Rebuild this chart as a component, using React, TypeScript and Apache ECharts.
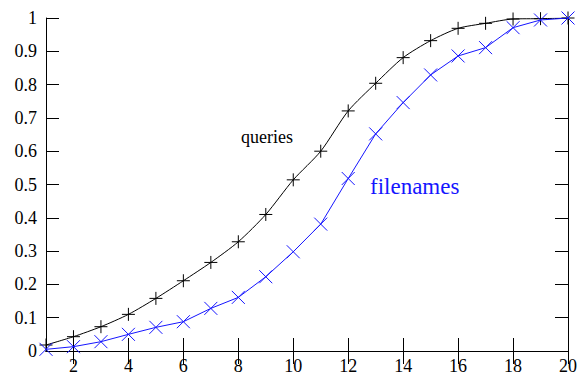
import React, { useEffect, useRef } from "react";
import * as echarts from "echarts";

const xValues = [1, 2, 3, 4, 5, 6, 7, 8, 9, 10, 11, 12, 13, 14, 15, 16, 17, 18, 19, 20];
const queries = [0.018, 0.043, 0.073, 0.11, 0.158, 0.211, 0.266, 0.328, 0.41, 0.514, 0.6, 0.721, 0.804, 0.881, 0.932, 0.969, 0.984, 0.997, 0.998, 1.0];
const filenames = [0.005, 0.013, 0.028, 0.05, 0.071, 0.088, 0.128, 0.161, 0.223, 0.298, 0.381, 0.518, 0.652, 0.746, 0.829, 0.886, 0.911, 0.971, 0.994, 1.0];
const xTickValues = [2, 4, 6, 8, 10, 12, 14, 16, 18, 20];
const seriesNames = ["queries", "filenames"];

const FONT = "Liberation Serif";
const BLUE = "#1515ff";

export default function App() {
  const ref = useRef<HTMLDivElement>(null);
  useEffect(() => {
    if (!ref.current) return;
    const chart = echarts.init(ref.current, undefined, { renderer: "svg" });
    const tickCommon = { inside: true, length: 13, lineStyle: { color: "#000", width: 1 } };
    const lineCommon = { show: true, lineStyle: { color: "#000", width: 1 } };
    const labelStyle = { color: "#000", fontSize: 18, fontFamily: FONT };
    chart.setOption({
      animation: false,
      backgroundColor: "#fff",
      textStyle: { fontFamily: FONT, fontSize: 18 },
      grid: { left: 46, right: 13, top: 18, bottom: 25 },
      xAxis: [
        {
          type: "value", min: 1, max: 20, position: "bottom",
          axisLine: lineCommon,
          axisTick: { ...tickCommon, customValues: xTickValues },
          axisLabel: { ...labelStyle, customValues: xTickValues, margin: 6 },
          splitLine: { show: false },
        },
        {
          type: "value", min: 1, max: 20, position: "top",
          axisLine: lineCommon,
          axisTick: { ...tickCommon, customValues: xTickValues },
          axisLabel: { show: false, customValues: xTickValues },
          splitLine: { show: false },
        },
      ],
      yAxis: [
        {
          type: "value", min: 0, max: 1, interval: 0.1, position: "left",
          axisLine: lineCommon,
          axisTick: tickCommon,
          axisLabel: {
            ...labelStyle, margin: 9,
            formatter: (v: number) => String(Math.round(v * 10) / 10),
          },
          splitLine: { show: false },
        },
        {
          type: "value", min: 0, max: 1, interval: 0.1, position: "right",
          axisLine: lineCommon,
          axisTick: tickCommon,
          axisLabel: { show: false },
          splitLine: { show: false },
        },
      ],
      series: [
        {
          name: seriesNames[0],
          type: "line",
          data: xValues.map((x, i) => [x, queries[i]]),
          smooth: 0.25,
          symbol: "path://M0,5L10,5M5,0L5,10",
          symbolSize: 13,
          lineStyle: { color: "#000", width: 1 },
          itemStyle: { color: "none", borderColor: "#000", borderWidth: 1 },
          z: 2,
        },
        {
          name: seriesNames[1],
          type: "line",
          data: xValues.map((x, i) => [x, filenames[i]]),
          symbol: "path://M0,0L10,10M10,0L0,10",
          symbolSize: 13,
          lineStyle: { color: BLUE, width: 1 },
          itemStyle: { color: "none", borderColor: BLUE, borderWidth: 1 },
          z: 3,
        },
      ],
      graphic: [
        {
          type: "text", left: 241, top: 128,
          style: { text: seriesNames[0], fill: "#000", fontSize: 18, fontFamily: FONT },
        },
        {
          type: "text", left: 370, top: 175,
          style: { text: seriesNames[1], fill: BLUE, fontSize: 23, fontFamily: FONT },
        },
      ],
    });
    return () => chart.dispose();
  }, []);
  return (
    <div
      ref={ref}
      style={{ position: "fixed", left: 0, top: 0, width: 581, height: 376, background: "#fff" }}
    />
  );
}
